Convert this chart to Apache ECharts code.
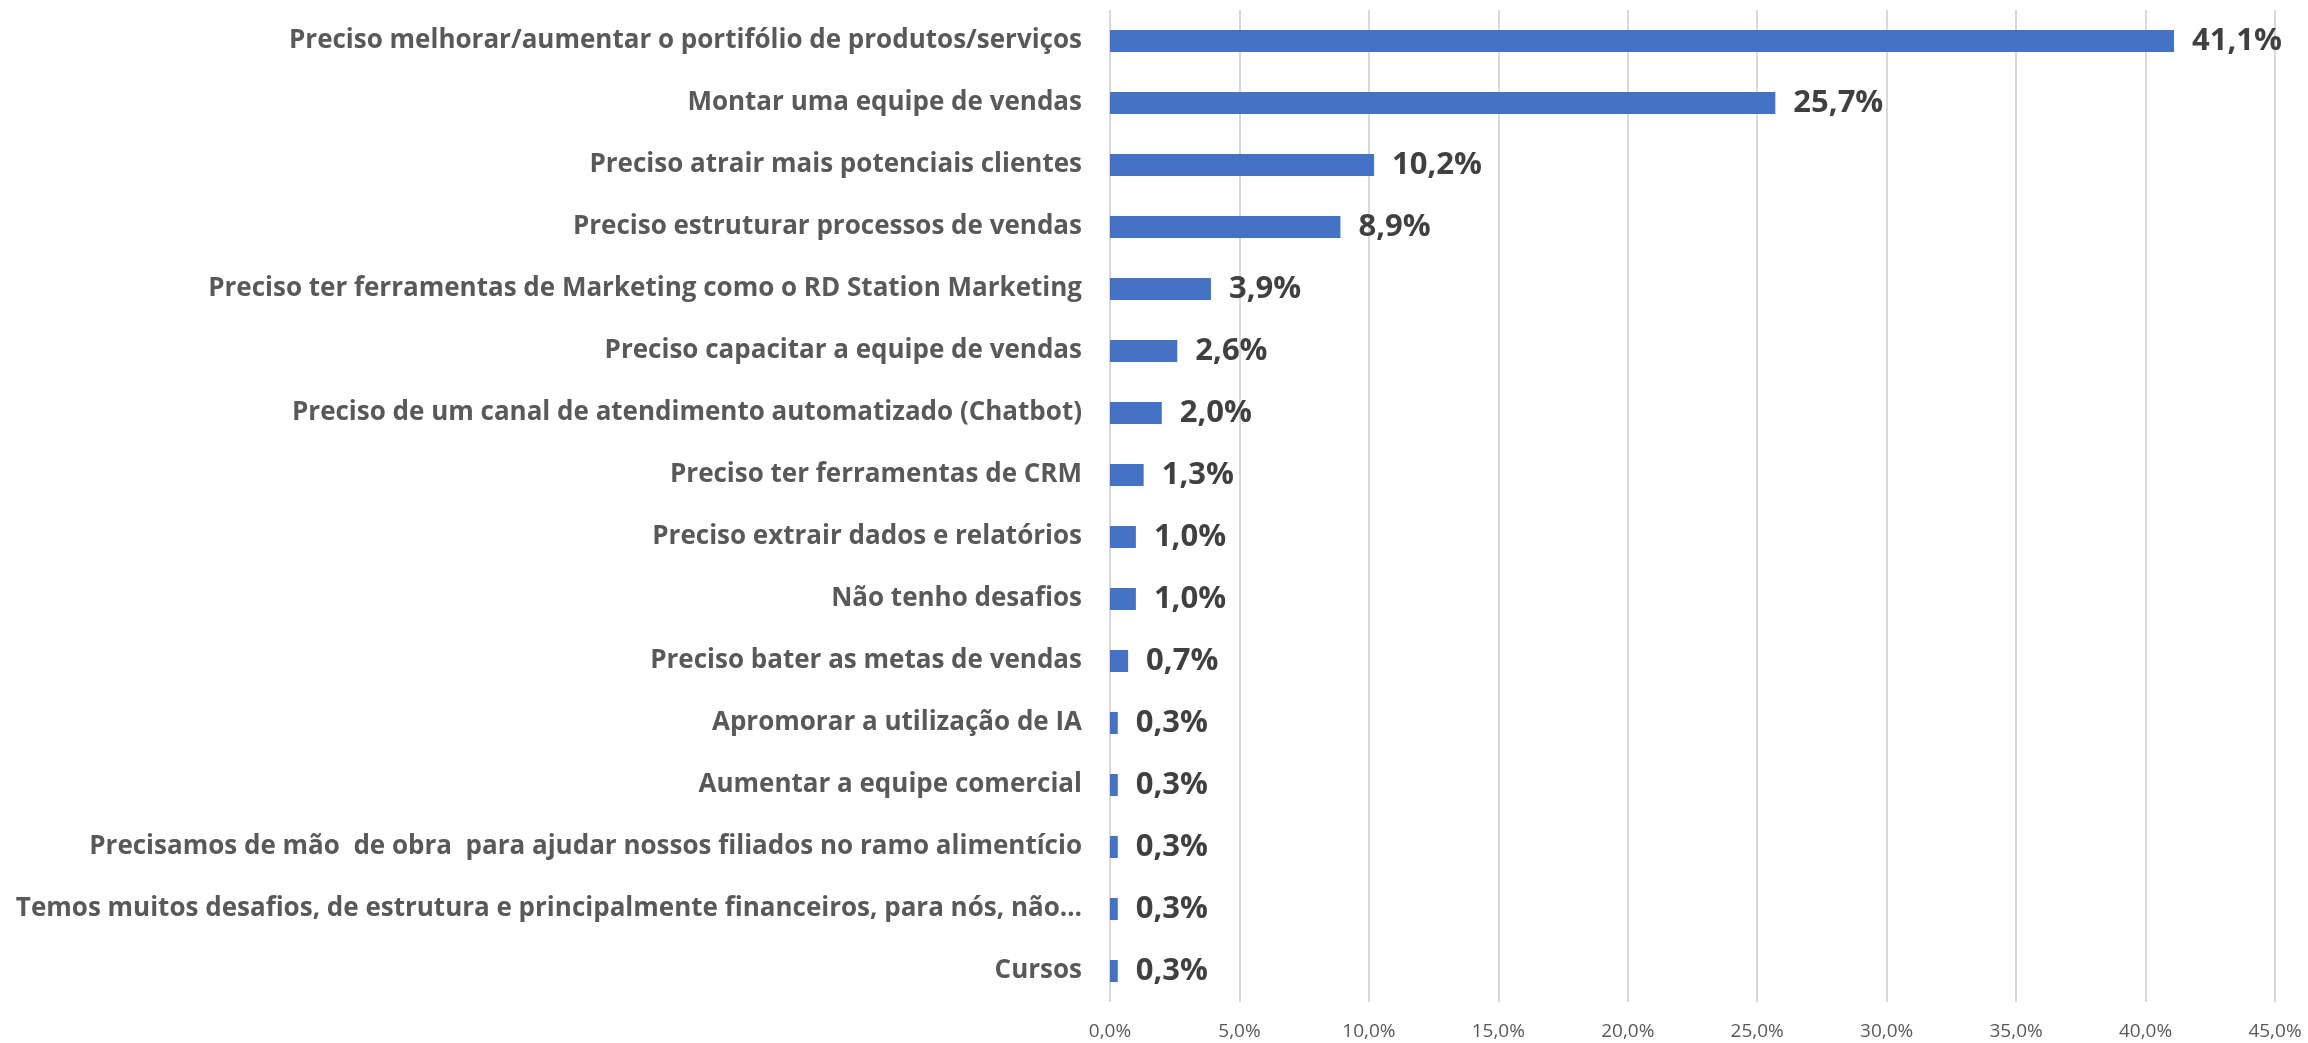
<!DOCTYPE html>
<html>
<head>
<meta charset="utf-8">
<script src="https://cdn.jsdelivr.net/npm/echarts@6/dist/echarts.min.js"></script>
<style>
  html, body { margin: 0; padding: 0; background: #fff; }
  #chart { width: 2308px; height: 1043px; }
</style>
</head>
<body>
<div id="chart"></div>
<script>
// categories, top to bottom
var categories = [
  'Preciso melhorar/aumentar o portifólio de produtos/serviços',
  'Montar uma equipe de vendas',
  'Preciso atrair mais potenciais clientes',
  'Preciso estruturar processos de vendas',
  'Preciso ter ferramentas de Marketing como o RD Station Marketing',
  'Preciso capacitar a equipe de vendas',
  'Preciso de um canal de atendimento automatizado (Chatbot)',
  'Preciso ter ferramentas de CRM',
  'Preciso extrair dados e relatórios',
  'Não tenho desafios',
  'Preciso bater as metas de vendas',
  'Apromorar a utilização de IA',
  'Aumentar a equipe comercial',
  'Precisamos de mão  de obra  para ajudar nossos filiados no ramo alimentício',
  'Temos muitos desafios, de estrutura e principalmente financeiros, para nós, não…',
  'Cursos'
]
var values = [41.1, 25.7, 10.2, 8.9, 3.9, 2.6, 2.0, 1.3, 1.0, 1.0, 0.7, 0.3, 0.3, 0.3, 0.3, 0.3]

function pct (v) {
  return v.toFixed(1).replace('.', ',') + '%'
}

var myChart = echarts.init(document.getElementById('chart'))
var option = {
  animation: false,
  grid: {
    left: 1110,
    right: 33,
    top: 10,
    bottom: 41
  },
  xAxis: {
    type: 'value',
    min: 0,
    max: 45,
    interval: 5,
    axisLine: { show: false },
    axisTick: { show: false },
    splitLine: {
      lineStyle: { color: '#d9d9d9', width: 2 }
    },
    axisLabel: {
      formatter: pct,
      color: '#595959',
      fontFamily: 'Open Sans',
      fontSize: 19,
      margin: 20
    }
  },
  yAxis: {
    type: 'category',
    inverse: true,
    data: categories,
    axisLine: { show: false },
    axisTick: { show: false },
    axisLabel: {
      color: '#595959',
      fontFamily: 'Open Sans',
      fontWeight: 'bold',
      fontSize: 26,
      margin: 28
    }
  },
  series: [{
    type: 'bar',
    data: values,
    barWidth: 22,
    itemStyle: { color: '#4472c4' },
    label: {
      show: true,
      position: 'right',
      distance: 18,
      formatter: function (p) { return pct(p.value) },
      color: '#404040',
      fontFamily: 'Open Sans',
      fontWeight: 'bold',
      fontSize: 31
    }
  }]
}
myChart.setOption(option)
</script>
</body>
</html>
